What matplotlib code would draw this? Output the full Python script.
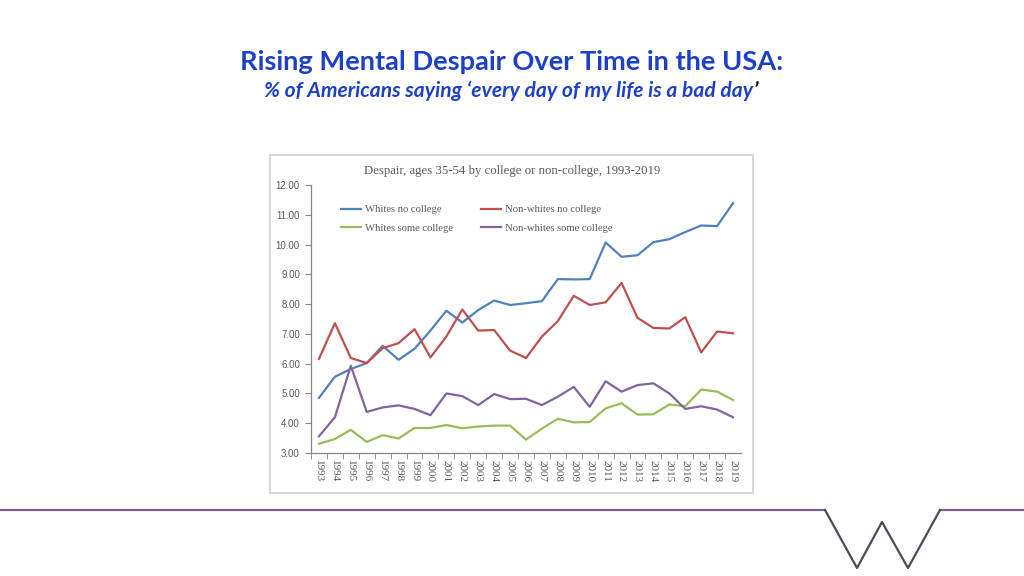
import matplotlib.pyplot as plt
from matplotlib.lines import Line2D
from matplotlib.patches import Rectangle

# data
years = list(range(1993, 2020))

whites_no_college = [4.85, 5.56, 5.82, 6.02, 6.60, 6.13, 6.50, 7.11, 7.78, 7.38,
                     7.80, 8.12, 7.97, 8.03, 8.10, 8.84, 8.83, 8.84, 10.07, 9.59,
                     9.64, 10.08, 10.18, 10.42, 10.64, 10.62, 11.39]
nonwhites_no_college = [6.16, 7.36, 6.19, 6.02, 6.52, 6.69, 7.16, 6.21, 6.91, 7.82,
                        7.11, 7.13, 6.44, 6.19, 6.91, 7.43, 8.28, 7.97, 8.06, 8.71,
                        7.54, 7.20, 7.18, 7.56, 6.38, 7.08, 7.02]
whites_some_college = [3.31, 3.47, 3.78, 3.37, 3.60, 3.49, 3.84, 3.84, 3.94, 3.83,
                       3.89, 3.92, 3.92, 3.45, 3.82, 4.15, 4.03, 4.04, 4.50, 4.67,
                       4.29, 4.30, 4.63, 4.57, 5.13, 5.06, 4.78]
nonwhites_some_college = [3.56, 4.20, 5.93, 4.38, 4.53, 4.60, 4.48, 4.27, 5.00, 4.91,
                          4.61, 4.98, 4.81, 4.82, 4.61, 4.89, 5.22, 4.55, 5.41, 5.06,
                          5.28, 5.34, 5.00, 4.48, 4.57, 4.46, 4.20]

series = [
    ("Whites no college", whites_no_college, "#4F81BD"),
    ("Non-whites no college", nonwhites_no_college, "#C0504D"),
    ("Whites some college", whites_some_college, "#9BBB59"),
    ("Non-whites some college", nonwhites_some_college, "#8064A2"),
]
y_ticks = [3, 4, 5, 6, 7, 8, 9, 10, 11, 12]

W, H = 1024, 576
fig = plt.figure(figsize=(10.24, 5.76), dpi=100)
fig.patch.set_facecolor("white")

# slide title
title_blue = "#1E40C8"
fig.text(0.5, 1 - 62 / H, "Rising Mental Despair Over Time in the USA:",
         ha="center", va="center", fontsize=19.6, fontweight="bold",
         family="Lato", color=title_blue)
sub = fig.text(0.5 - 3 / W, 1 - 91 / H,
               "% of Americans saying \u2018every day of my life is a bad day",
               ha="center", va="center", fontsize=15.1, fontweight="bold",
               fontstyle="italic", family="Lato", color=title_blue)
fig.canvas.draw()
bb = sub.get_window_extent()
fig.text(bb.x1 / W, 1 - 91 / H, "\u2019", ha="left", va="center", fontsize=15.1,
         fontweight="bold", fontstyle="italic", family="Lato", color="black")

# inset chart frame
fig.add_artist(Rectangle((270 / W, 1 - 493 / H), 483 / W, 338 / H,
                         transform=fig.transFigure, fill=False,
                         edgecolor="#D0D0D0", linewidth=1.2))

ax = fig.add_axes([311 / W, 1 - 453 / H, 430 / W, 268 / H])
lines = {}
for name, vals, col in series:
    lines[name], = ax.plot(years, vals, color=col, linewidth=1.6, label=name)

ax.set_xlim(1992.5, 2019.5)
ax.set_ylim(3, 12)
ax.set_yticks(y_ticks)
ax.set_yticklabels([f"{v:.2f}" for v in y_ticks], fontsize=7,
                   family="Liberation Sans", color="#595959")
ax.set_xticks(years)
ax.set_xticklabels([str(y) for y in years], rotation=270, fontsize=8,
                   family="Liberation Serif", color="#595959")
ax.set_xticks([y + 0.5 for y in years[:-1]] + [1992.5], minor=True)
ax.tick_params(axis="x", which="major", length=0, pad=5)
ax.tick_params(axis="x", which="minor", length=4, color="#868686")
ax.tick_params(axis="y", length=4, color="#868686", pad=4)
for s in ["top", "right"]:
    ax.spines[s].set_visible(False)
for s in ["left", "bottom"]:
    ax.spines[s].set_color("#868686")
    ax.spines[s].set_linewidth(0.9)

fig.text(512 / W, 1 - 171 / H,
         "Despair, ages 35-54 by college or non-college, 1993-2019",
         ha="center", va="center", fontsize=9.2, family="Liberation Serif",
         color="#595959")

# legend filled row by row like the original
order = ["Whites no college", "Whites some college",
         "Non-whites no college", "Non-whites some college"]
leg = ax.legend([lines[n] for n in order], order, ncol=2, loc="upper left",
                bbox_to_anchor=(0.05, 0.958), frameon=False,
                handlelength=1.85, handletextpad=0.4, columnspacing=2.6,
                labelspacing=0.85, borderpad=0.3,
                prop={"family": "Liberation Serif", "size": 7.7})
for t in leg.get_texts():
    t.set_color("#595959")

# bottom decoration line with W mark
line_col = "#7B5C8E"
w_col = "#4A4A5A"
y0 = 1 - 510 / H
fig.add_artist(Line2D([0, 825 / W], [y0, y0], transform=fig.transFigure,
                      color=line_col, linewidth=1.6))
fig.add_artist(Line2D([940 / W, 1], [y0, y0], transform=fig.transFigure,
                      color=line_col, linewidth=1.6))
wx = [825, 857, 882, 908, 940]
wy = [510, 568, 522, 568, 510]
fig.add_artist(Line2D([x / W for x in wx], [1 - y / H for y in wy],
                      transform=fig.transFigure, color=w_col, linewidth=1.6))

fig.savefig("out.png", dpi=100)
